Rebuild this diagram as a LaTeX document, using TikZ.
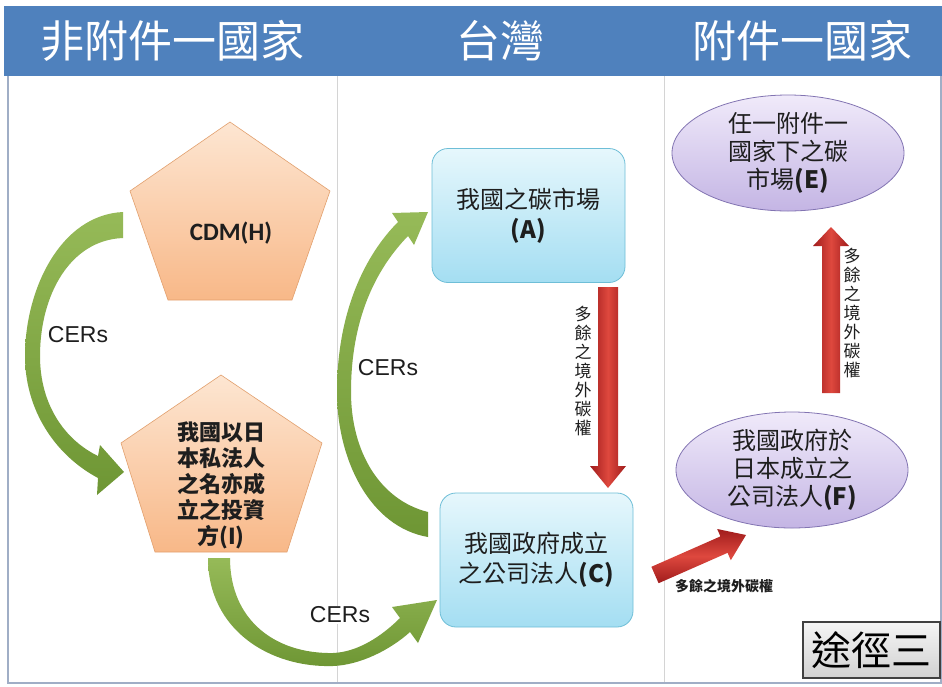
\documentclass[tikz,border=0pt]{standalone}
\usepackage{fontspec}
\setmainfont{Liberation Sans}
\newfontfamily\cjk{Noto Sans CJK TC}
\newfontfamily\calib{Carlito}
\usetikzlibrary{shapes.geometric}
\definecolor{hdr}{RGB}{79,129,189}
\definecolor{framec}{RGB}{160,174,198}
\definecolor{divc}{RGB}{212,212,212}
\definecolor{peachT}{RGB}{253,230,210}
\definecolor{peachB}{RGB}{248,184,136}
\definecolor{peachD}{RGB}{226,160,110}
\definecolor{cyanT}{RGB}{230,247,252}
\definecolor{cyanB}{RGB}{164,222,242}
\definecolor{cyanD}{RGB}{110,190,215}
\definecolor{lavT}{RGB}{240,234,250}
\definecolor{lavB}{RGB}{196,181,228}
\definecolor{lavD}{RGB}{130,116,178}
\definecolor{grnL}{RGB}{150,186,88}
\definecolor{grnD}{RGB}{110,150,52}
\definecolor{redD}{RGB}{160,28,28}
\definecolor{redL}{RGB}{222,72,62}
\definecolor{txt}{RGB}{30,30,30}
\tikzset{
  hdrtext/.style={text=white, font=\cjk\fontsize{44}{44}\selectfont, inner sep=0pt},
  penta/.style={draw=peachD, line width=0.6pt, top color=peachT, bottom color=peachB},
  rbox/.style={draw=cyanD, line width=0.8pt, rounded corners=16pt, top color=cyanT, bottom color=cyanB,
    minimum width=193pt, minimum height=134pt, align=center, text=txt,
    font=\cjk\fontsize{24}{30}\selectfont, inner sep=0pt},
  ell/.style={ellipse, draw=lavD, line width=0.8pt, top color=lavT, bottom color=lavB,
    minimum width=232pt, minimum height=116pt, align=center, text=txt,
    font=\cjk\fontsize{24}{28}\selectfont, inner sep=0pt},
  ptext/.style={align=center, text=txt, font=\cjk\bfseries\fontsize{22}{26}\selectfont, inner sep=0pt},
  cers/.style={fill=white, text=txt, font=\fontsize{23}{23}\selectfont, inner sep=1pt},
  vlabel/.style={fill=white, text=txt, align=center, font=\cjk\fontsize{17}{19}\selectfont, inner sep=1pt},
  garrow/.style={top color=grnL, bottom color=grnD, draw=none},
  rarrowv/.style={left color=redD, right color=redD, middle color=redL, draw=none},
  rarrowh/.style={top color=redD, bottom color=redD, middle color=redL, draw=none},
}
\begin{document}
\begin{tikzpicture}[x=1pt,y=-1pt]
\useasboundingbox (0,0) rectangle (942,686);
\fill[white] (0,0) rectangle (942,686);
% header
\fill[hdr] (4,6) rectangle (942,76);
\node[hdrtext] (h1) at (172,41) {非附件一國家};
\node[hdrtext] (h2) at (500,41) {台灣};
\node[hdrtext] (h3) at (802,41) {附件一國家};
% frame and dividers
\draw[divc, line width=1pt] (337,76) -- (337,683) (664,76) -- (664,683);
\draw[framec, line width=1.5pt] (8,76) -- (8,683) -- (941,683) -- (941,76);

% pentagon H
\path[penta] (230,122) -- (330,191) -- (292,300) -- (168,300) -- (130,191) -- cycle;
\node[inner sep=0pt, text=txt, font=\calib\bfseries\fontsize{25}{25}\selectfont] (H) at (231,233) {CDM(H)};
% pentagon I
\path[penta] (221,375) -- (322,443) -- (287,552) -- (155,552) -- (121,443) -- cycle;
\node[ptext] (I) at (221,485) {我國以日\\本私法人\\之名亦成\\立之投資\\方(I)};

% boxes
\node[rbox] (A) at (528.5,215.5) {我國之碳市場\\{\bfseries (A)}};
\node[rbox] (C) at (536.5,560) {我國政府成立\\之公司法人{\bfseries (C)}};

% ellipses
\node[ell] (E) at (788,153) {任一附件一\\國家下之碳\\市場{\bfseries (E)}};
\node[ell] (F) at (792,470) {我國政府於\\日本成立之\\公司法人{\bfseries (F)}};

% green curved arrows
\path[garrow] (123,212) .. controls (60,215) and (25,290) .. (25,356)
  .. controls (25,410) and (55,455) .. (98,478) -- (97,495) -- (124,472) -- (100,445) -- (98,456)
  .. controls (65,440) and (40,405) .. (40,356)
  .. controls (40,295) and (70,240) .. (123,238) -- cycle;
\path[garrow] (208,558) .. controls (208,630) and (270,668) .. (333,666)
  .. controls (360,665) and (390,650) .. (410,632) -- (418,643) -- (437,600) -- (392,607) -- (400,618)
  .. controls (382,636) and (358,652) .. (333,653)
  .. controls (275,654) and (230,620) .. (230,558) -- cycle;
\path[garrow] (428,537) .. controls (370,527) and (337,460) .. (337,392)
  .. controls (337,312) and (365,255) .. (398,222) -- (392,213) -- (428,212) -- (414,245) -- (408,236)
  .. controls (375,270) and (351,320) .. (351,392)
  .. controls (351,452) and (380,500) .. (428,512) -- cycle;

\node[cers] (c1) at (78,335) {CERs};
\node[cers] (c2) at (388,368) {CERs};
\node[cers] (c3) at (340,615) {CERs};

% red arrows
\path[rarrowv] (598,287) -- (618,287) -- (618,466) -- (626,466) -- (608,488) -- (590,466) -- (598,466) -- cycle;
\node[vlabel] (l1) at (583,371) {多\\餘\\之\\境\\外\\碳\\權};
\path[rarrowv] (822,393) -- (840,393) -- (840,246) -- (849,246) -- (831,227) -- (813,246) -- (822,246) -- cycle;
\node[vlabel] (l2) at (852,313) {多\\餘\\之\\境\\外\\碳\\權};
\path[rarrowh] (651.4,566.8) -- (720.4,536.4) -- (717.2,529.0) -- (746,535) -- (730.8,560.2) -- (727.6,552.8) -- (658.6,583.2) -- cycle;
\node[fill=white, inner sep=1pt, text=txt, font=\cjk\bfseries\fontsize{14}{14}\selectfont] (l3) at (724,586) {多餘之境外碳權};

% route box
\node[draw=black!75, line width=1.5pt, top color=black!4, bottom color=black!18,
  minimum width=137pt, minimum height=56pt, inner sep=0pt, text=black,
  font=\cjk\fontsize{40}{40}\selectfont] (R) at (871.5,650) {途徑三};
\end{tikzpicture}
\end{document}
